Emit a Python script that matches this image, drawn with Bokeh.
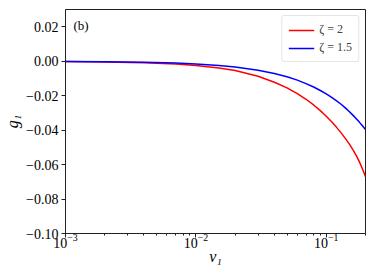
from bokeh.plotting import figure
from bokeh.models import (FixedTicker, CustomJSTickFormatter, Legend, LegendItem,
                          Label, LogTicker, Range1d)
from bokeh.embed import file_html
from bokeh.resources import INLINE

v1 = [0.001, 0.002, 0.004, 0.007, 0.01, 0.015, 0.02, 0.03, 0.04, 0.05, 0.06, 0.07,
      0.08, 0.09, 0.1, 0.11, 0.12, 0.13, 0.14, 0.15, 0.16, 0.17, 0.18, 0.19, 0.2]
g_zeta2 = [-0.00022, -0.00045, -0.0009, -0.0017, -0.0025, -0.0039, -0.0054, -0.0087,
           -0.0122, -0.0155, -0.0188, -0.0221, -0.0254, -0.0287, -0.0320, -0.0352,
           -0.0384, -0.0416, -0.0448, -0.0480, -0.0513, -0.0548, -0.0586, -0.0627,
           -0.0670]
g_zeta15 = [-0.00015, -0.0003, -0.0006, -0.0011, -0.0016, -0.0025, -0.0034, -0.0052,
            -0.0071, -0.0090, -0.0110, -0.0130, -0.0150, -0.0170, -0.0190, -0.0210,
            -0.0230, -0.0250, -0.0271, -0.0292, -0.0313, -0.0334, -0.0355, -0.0376,
            -0.0397]
y_ticks = [0.02, 0.0, -0.02, -0.04, -0.06, -0.08, -0.10]
legend_labels = ["ζ = 2", "ζ = 1.5"]
panel_label = "(b)"

FONT = "Liberation Serif"

p = figure(x_axis_type="log",
           x_range=Range1d(1e-3, 0.2), y_range=Range1d(-0.10, 0.03),
           output_backend="svg", toolbar_location=None,
           min_border_left=65, min_border_right=5, min_border_top=9,
           min_border_bottom=30, frame_width=300, frame_height=224)

p.grid.visible = False
p.outline_line_color = "#222222"
p.outline_line_width = 1

r1 = p.line(v1, g_zeta2, line_color="red", line_width=1.5)
r2 = p.line(v1, g_zeta15, line_color="blue", line_width=1.5)

for ax in (p.xaxis[0], p.yaxis[0]):
    ax.major_label_text_font = FONT
    ax.major_label_text_font_size = "14px"
    ax.major_label_text_color = "black"
    ax.axis_label_text_font = FONT
    ax.axis_label_text_font_size = "16px"
    ax.axis_label_text_font_style = "italic"
    ax.axis_label_text_color = "black"
    ax.major_tick_in = 0
    ax.major_tick_out = 4
    ax.minor_tick_in = 0
    ax.minor_tick_out = 2
    ax.axis_line_color = "#222222"
    ax.major_tick_line_color = "#222222"
    ax.minor_tick_line_color = "#222222"

p.yaxis.ticker = FixedTicker(ticks=y_ticks, minor_ticks=[])
p.yaxis.formatter = CustomJSTickFormatter(code="""
    if (Math.abs(tick) < 1e-9) { return '0.00'; }
    return (tick < 0 ? '\\u2212' : '') + Math.abs(tick).toFixed(2);
""")
p.yaxis.major_label_standoff = 3
p.yaxis.axis_label_standoff = 2
p.xaxis.ticker = LogTicker(num_minor_ticks=10)
p.xaxis.major_label_standoff = -4
p.xaxis.axis_label_standoff = -3
p.xaxis.axis_label = "v₁"
p.yaxis.axis_label = "g₁"

legend = Legend(items=[LegendItem(label=legend_labels[0], renderers=[r1]),
                       LegendItem(label=legend_labels[1], renderers=[r2])],
                location="top_right")
legend.label_text_font = FONT
legend.label_text_font_size = "12px"
legend.label_height = 14
legend.glyph_height = 14
legend.glyph_width = 26
legend.spacing = 3
legend.padding = 6
legend.margin = 6
legend.border_line_color = "#cccccc"
legend.border_radius = 3
p.add_layout(legend)

p.add_layout(Label(x=8, y=216, x_units="screen", y_units="screen", text=panel_label,
                   text_font=FONT, text_font_size="13px", text_baseline="top",
                   text_color="black"))

open("out.html", "w").write(file_html(p, INLINE))
